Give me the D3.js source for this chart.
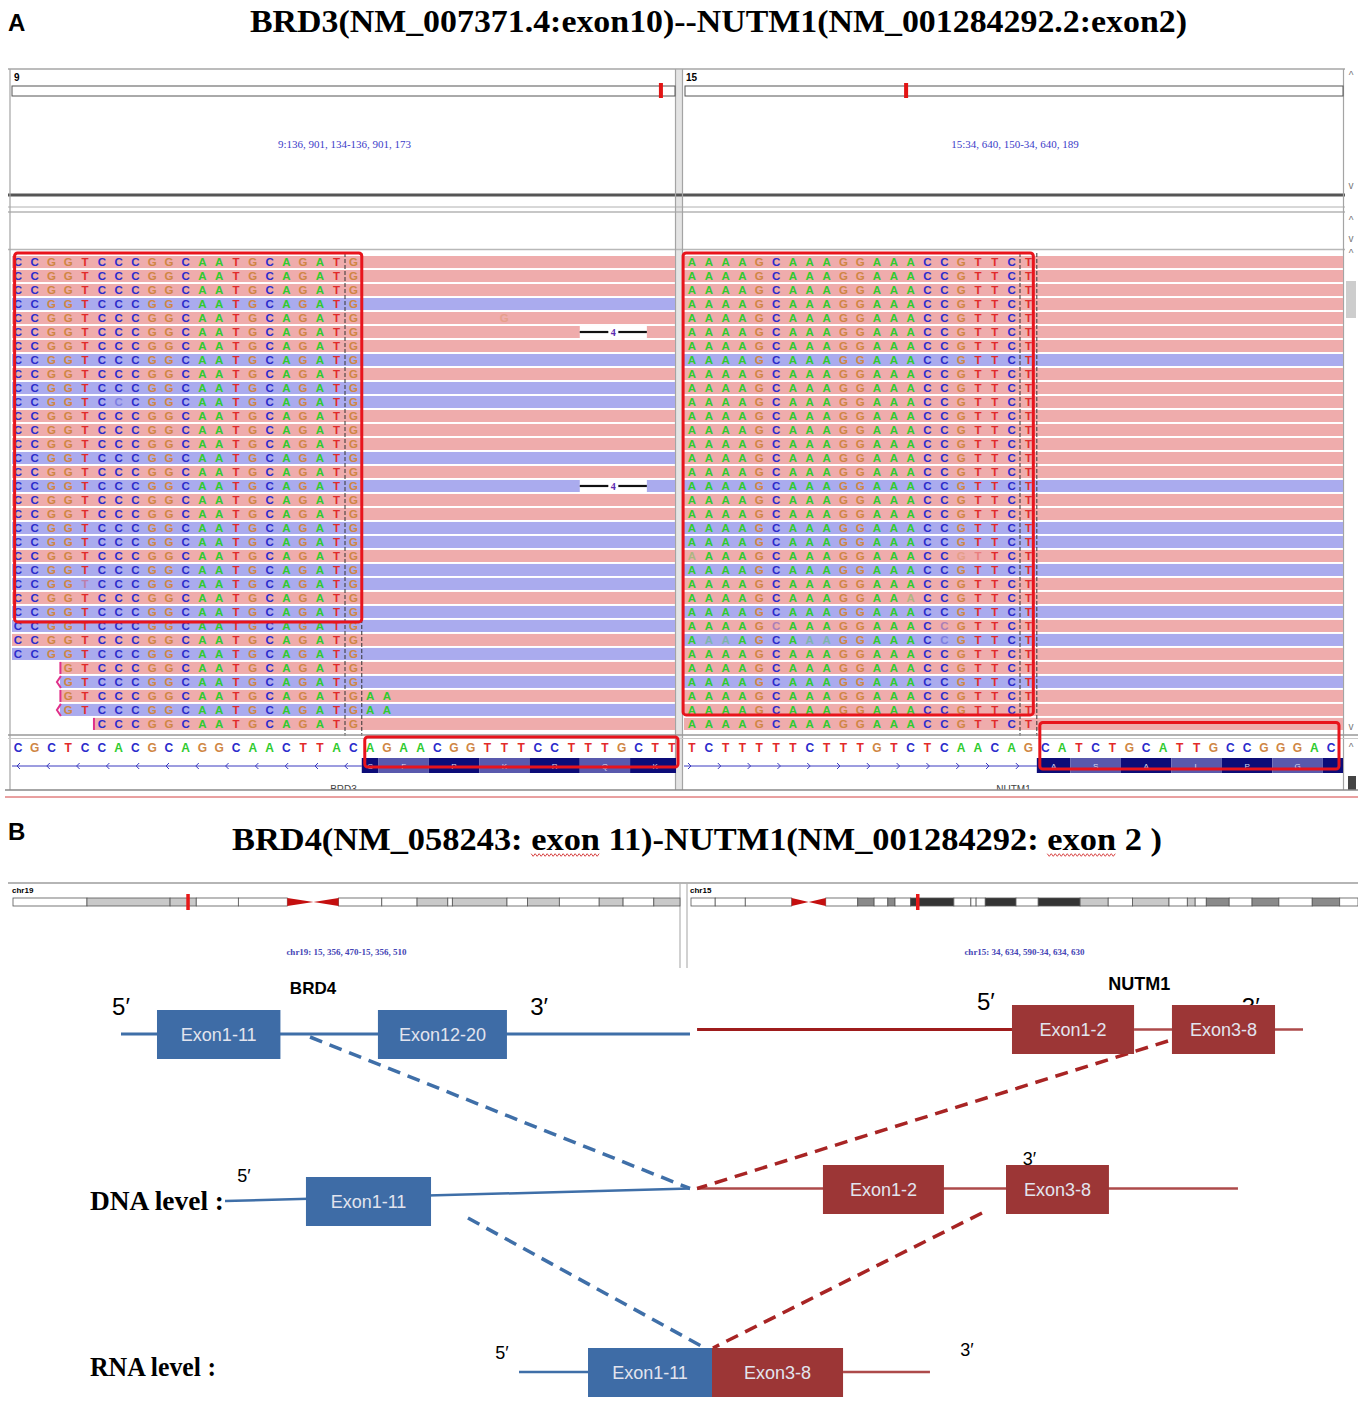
<!DOCTYPE html>
<html>
<head>
<meta charset="utf-8">
<script src="https://cdn.jsdelivr.net/npm/d3@7"></script>
<style>
  body { margin: 0; background: #fff; }
  svg { display: block; }
</style>
</head>
<body>
<svg id="fig" width="1358" height="1405"></svg>
<script>
// ---------- data ----------
const titleA = 'BRD3(NM_007371.4:exon10)--NUTM1(NM_001284292.2:exon2)'
const titleB = 'BRD4(NM_058243: exon 11)-NUTM1(NM_001284292: exon 2 )'

const chromLen = {9: 138394717, 15: 101991189}
const leftLocus = {chr: 9, start: 136901134, label: '9:136, 901, 134-136, 901, 173'}
const rightLocus = {chr: 15, start: 34640150, label: '15:34, 640, 150-34, 640, 189'}

const leftRef = 'CGCTCCACGCAGGCAACTTACAGAACGGTTTCCTTTGCTT'
const rightRef = 'TCTTTTTCTTTGTCTCAACAGCATCTGCATTGCCGGGAC'
const leftClip = 'CCGGTCCCGGCAATGCAGATG'
const rightClip = 'AAAAGCAAAGGAAACCGTTCT'

const leftReverse = [3, 7, 9, 10, 14, 16, 19, 20, 22, 23, 25, 26, 28, 30, 32]
const rightReverse = [7, 16, 19, 20, 22, 25, 27, 30]
const leftReadStart = [0, 0, 0, 0, 0, 0, 0, 0, 0, 0, 0, 0, 0, 0, 0, 0, 0,
  0, 0, 0, 0, 0, 0, 0, 0, 0, 0, 0, 0, 3, 3, 3, 3, 5]
const leftExtra = [[31, 21, 'A'], [31, 22, 'A'], [32, 21, 'A'], [32, 22, 'A']]
const leftMismatch = [[4, 29, 'G']]
const leftDeletions = [[5, 34, 38, '4'], [16, 34, 38, '4']]
const leftFaded = [[10, 6], [23, 4]]
const rightFaded = [[21, 0], [21, 16], [21, 17], [24, 13], [26, 5], [26, 15], [27, 1], [27, 2], [27, 7], [27, 8], [27, 15]]

// codons of the exon blocks (base index from, to, amino acid)
const leftCodons = [[21, 22, 'C'], [22, 25, 'F'], [25, 28, 'P'], [28, 31, 'K'], [31, 34, 'R'], [34, 37, 'Q'], [37, 40, 'K']]
const rightCodons = [[21, 23, 'A'], [23, 26, 'S'], [26, 29, 'A'], [29, 32, 'L'], [32, 35, 'P'], [35, 38, 'G'], [38, 40, '']]

// cytobands in Mb: [start, end, stain]
const chr19Bands = [[0, 6.5, 'w'], [6.5, 13.8, 'g25'], [13.8, 16.1, 'g25'], [16.1, 19.8, 'w'], [19.8, 24.1, 'w'],
  [24.1, 26.4, 'acenP'], [26.4, 28.6, 'acenQ'], [28.6, 32.4, 'w'], [32.4, 35.5, 'w'], [35.5, 38.2, 'g25'],
  [38.2, 38.6, 'w'], [38.6, 43.4, 'g25'], [43.4, 45.2, 'w'], [45.2, 48.0, 'g25'], [48.0, 51.5, 'w'],
  [51.5, 53.6, 'g25'], [53.6, 56.3, 'w'], [56.3, 58.6, 'g25']]
const chr15Bands = [[0, 3.7, 'w'], [3.7, 8.3, 'w'], [8.3, 15.4, 'w'], [15.4, 18.0, 'acenP'], [18.0, 20.6, 'acenQ'],
  [20.6, 25.5, 'w'], [25.5, 28.0, 'g50'], [28.0, 30.1, 'w'], [30.1, 31.2, 'g50'], [31.2, 33.6, 'w'],
  [33.6, 40.2, 'g100'], [40.2, 42.8, 'w'], [42.8, 43.6, 'w'], [43.6, 45.0, 'w'], [45.0, 49.7, 'g100'],
  [49.7, 53.1, 'w'], [53.1, 59.5, 'g100'], [59.5, 63.8, 'g25'], [63.8, 67.5, 'w'], [67.5, 73.1, 'g25'],
  [73.1, 75.9, 'w'], [75.9, 77.1, 'g25'], [77.1, 78.8, 'w'], [78.8, 82.3, 'g50'], [82.3, 85.8, 'w'],
  [85.8, 89.9, 'g50'], [89.9, 95.0, 'w'], [95.0, 99.2, 'g50'], [99.2, 102, 'w']]
const chr19Len = 58.6, chr15Len = 102
const chr19Mark = 15.356, chr15Mark = 34.635

// schematic (percent of width)
const exonBoxes = [
  {level: 'gene', gene: 'BRD4', label: 'Exon1-11', from: 11.56, to: 20.65},
  {level: 'gene', gene: 'BRD4', label: 'Exon12-20', from: 27.83, to: 37.33},
  {level: 'gene', gene: 'NUTM1', label: 'Exon1-2', from: 74.52, to: 83.51},
  {level: 'gene', gene: 'NUTM1', label: 'Exon3-8', from: 86.30, to: 93.89},
  {level: 'dnaB', gene: 'BRD4', label: 'Exon1-11', from: 22.53, to: 31.74},
  {level: 'dnaN', gene: 'NUTM1', label: 'Exon1-2', from: 60.60, to: 69.51},
  {level: 'dnaN', gene: 'NUTM1', label: 'Exon3-8', from: 74.08, to: 81.66},
  {level: 'rna', gene: 'BRD4', label: 'Exon1-11', from: 43.30, to: 52.43},
  {level: 'rna', gene: 'NUTM1', label: 'Exon3-8', from: 52.43, to: 62.08}
]
const backbones = [
  {gene: 'BRD4', from: 8.91, to: 50.81, y0: 'gene', y1: 'gene', w: 3},
  {gene: 'NUTM1', from: 51.33, to: 74.52, y0: 'geneN', y1: 'geneN', w: 3},
  {gene: 'NUTM1b', from: 83.51, to: 95.95, y0: 'geneN', y1: 'geneN', w: 2.5},
  {gene: 'BRD4', from: 16.57, to: 50.81, y0: 'dnaB', y1: 'dnaN', w: 2.5},
  {gene: 'NUTM1b', from: 51.33, to: 91.16, y0: 'dnaN', y1: 'dnaN', w: 2.5},
  {gene: 'BRD4', from: 38.22, to: 43.30, y0: 'rna', y1: 'rna', w: 2.5},
  {gene: 'NUTM1b', from: 62.08, to: 68.48, y0: 'rna', y1: 'rna', w: 2.5}
]
const junctions = [
  {gene: 'BRD4', from: [22.83, 'geneJ'], to: [50.81, 'dnaN']},
  {gene: 'NUTM1', from: [86.01, 'geneJ2'], to: [51.33, 'dnaN']},
  {gene: 'BRD4', from: [34.46, 'dnaJ'], to: [51.91, 'rnaTop']},
  {gene: 'NUTM1', from: [72.31, 'dnaJ2'], to: [52.50, 'rnaTop']}
]
const primeLabels = [
  {t: '5\u2032', x: 8.91, y: 'p5', size: 24}, {t: '3\u2032', x: 39.7, y: 'p5', size: 24},
  {t: '5\u2032', x: 72.6, y: 'p5n', size: 24}, {t: '3\u2032', x: 92.1, y: 'p5', size: 24},
  {t: '5\u2032', x: 17.97, y: 'pd', size: 18}, {t: '3\u2032', x: 75.8, y: 'pd3', size: 18},
  {t: '5\u2032', x: 36.97, y: 'pr', size: 18}, {t: '3\u2032', x: 71.2, y: 'pr3', size: 18}
]

// ---------- setup ----------
const svg = d3.select('#fig')
const defs = svg.append('defs')
const addClip = (id, x, y, w, h) => defs.append('clipPath').attr('id', id)
  .append('rect').attr('x', x).attr('y', y).attr('width', w).attr('height', h)

const serif = '"Liberation Serif", "Times New Roman", serif'
const sans = '"Liberation Sans", Arial, sans-serif'
const pink = '#efacac', blue = '#aaabee'
const baseColor = {A: '#2fcb2f', C: '#2b2bcc', G: '#cf8644', T: '#e22a2a'}
const stain = {w: '#ffffff', g25: '#c9c9c9', g50: '#8a8a8a', g100: '#343434'}

const xL = d3.scaleLinear().domain([0, 40]).range([9.6, 680.4])
const xR = d3.scaleLinear().domain([0, 40]).range([683.6, 1356.4])
const rowY = d3.scaleBand().domain(d3.range(34)).range([256, 256 + 34 * 13.94]).paddingInner(0.14)

function line (g, x1, y1, x2, y2, c, w, dash) {
  const l = g.append('line').attr('x1', x1).attr('y1', y1).attr('x2', x2).attr('y2', y2)
    .attr('stroke', c).attr('stroke-width', w)
  if (dash) l.attr('stroke-dasharray', dash)
  return l
}

// ---------- panel A ----------
svg.append('text').attr('x', 8).attr('y', 31).attr('font-family', sans).attr('font-weight', 'bold')
  .attr('font-size', 24).text('A')
svg.append('text').attr('x', 250).attr('y', 32).attr('font-family', serif).attr('font-weight', 'bold')
  .attr('font-size', 31).attr('textLength', 937).attr('lengthAdjust', 'spacingAndGlyphs').text(titleA)

const igv = svg.append('g')
igv.append('rect').attr('x', 676).attr('y', 69).attr('width', 7).attr('height', 721).attr('fill', '#e4e4e4')
line(igv, 8, 69, 1345, 69, '#bcbcbc', 2)
line(igv, 8, 195, 1345, 195, '#555', 3)
line(igv, 8, 207, 1345, 207, '#b0b0b0', 1)
line(igv, 8, 212, 1345, 212, '#b4b4b4', 1.5)
line(igv, 8, 249.5, 1345, 249.5, '#b8b8b8', 1.5)
;[10, 675.5, 682.5, 1343.5].forEach(x => line(igv, x, 69, x, 790, '#a4a4a4', 1.2))

// chromosome header
;[[leftLocus, 12, 675, '9', 14], [rightLocus, 685, 1343, '15', 686]].forEach(([loc, a, b, lab, lx]) => {
  const s = d3.scaleLinear().domain([0, chromLen[loc.chr]]).range([a, b - 7])
  igv.append('text').attr('x', lx).attr('y', 81).attr('font-family', sans).attr('font-weight', 'bold')
    .attr('font-size', 10).text(lab)
  igv.append('rect').attr('x', a).attr('y', 86).attr('width', b - a).attr('height', 10)
    .attr('fill', '#fff').attr('stroke', '#555').attr('stroke-width', 1)
  igv.append('rect').attr('x', s(loc.start) - 2).attr('y', 83).attr('width', 4).attr('height', 15).attr('fill', '#e31414')
  igv.append('text').attr('x', (a + b) / 2 + 1).attr('y', 148).attr('text-anchor', 'middle')
    .attr('font-family', serif).attr('font-size', 11).attr('fill', '#3b3bc8').text(loc.label)
})

// scroll glyphs
;[[79, '^'], [189, 'v'], [224, '^'], [242, 'v'], [257, '^'], [730, 'v'], [751, '^']].forEach(([y, t]) => {
  igv.append('text').attr('x', 1351).attr('y', y).attr('text-anchor', 'middle').attr('font-family', sans)
    .attr('font-size', 10).attr('fill', '#777').text(t)
})
igv.append('rect').attr('x', 1346).attr('y', 281).attr('width', 10).attr('height', 37).attr('fill', '#cdcdcd')
igv.append('rect').attr('x', 1348).attr('y', 776).attr('width', 8).attr('height', 14).attr('fill', '#444')

// reads
addClip('clipL', 12, 252, 663, 484)
addClip('clipR', 684, 252, 659, 484)

function drawReads (clipId, x, clip, reverse, starts, xEnd, faded) {
  const g = igv.append('g').attr('clip-path', `url(#${clipId})`)
  const rows = d3.range(34).map(i => ({i, rev: reverse.includes(i), start: starts ? starts[i] : 0}))
  const left = d => d.start ? x(d.start) : x(0) - 12
  g.selectAll('rect.read').data(rows).join('rect').attr('class', 'read')
    .attr('x', left).attr('y', d => rowY(d.i))
    .attr('width', d => xEnd - left(d)).attr('height', rowY.bandwidth())
    .attr('fill', d => d.rev ? blue : pink)
  const fadedSet = new Set(faded.map(f => f.join(',')))
  const letters = rows.flatMap(r => clip.split('').map((b, k) => ({row: r.i, k, b})).filter(l => l.k >= r.start))
  g.selectAll('text.base').data(letters).join('text').attr('class', 'base')
    .attr('x', d => x(d.k + 0.5)).attr('y', d => rowY(d.row) + 10.3)
    .attr('text-anchor', 'middle').attr('font-family', sans).attr('font-weight', 'bold').attr('font-size', 11.5)
    .attr('fill', d => baseColor[d.b]).attr('opacity', d => fadedSet.has(d.row + ',' + d.k) ? 0.35 : 1)
    .text(d => d.b)
  return {g, rows}
}

const L = drawReads('clipL', xL, leftClip, leftReverse, leftReadStart, 676, leftFaded)
drawReads('clipR', xR, rightClip, rightReverse, null, 1344, rightFaded)

// soft-clip markers on the late-starting reads
L.rows.filter(r => r.start > 0).forEach(r => {
  const x0 = xL(r.start), y0 = rowY(r.i), h = rowY.bandwidth()
  if (r.rev) {
    L.g.append('path').attr('d', `M${x0 + 1},${y0} L${x0 - 3},${y0 + h / 2} L${x0 + 1},${y0 + h}`)
      .attr('fill', 'none').attr('stroke', '#e0308a').attr('stroke-width', 2)
  } else {
    line(L.g, x0 + 0.5, y0, x0 + 0.5, y0 + h, '#e0308a', 2)
  }
})
L.g.selectAll('text.extra').data(leftExtra.concat(leftMismatch)).join('text').attr('class', 'extra')
  .attr('x', d => xL(d[1] + 0.5)).attr('y', d => rowY(d[0]) + 10.3).attr('text-anchor', 'middle')
  .attr('font-family', sans).attr('font-weight', 'bold').attr('font-size', 11.5)
  .attr('fill', d => baseColor[d[2]]).attr('opacity', d => d[1] > 25 ? 0.3 : 1).text(d => d[2])
leftDeletions.forEach(([row, a, b, t]) => {
  const y0 = rowY(row), h = rowY.bandwidth(), xm = (xL(a) + xL(b)) / 2
  L.g.append('rect').attr('x', xL(a)).attr('y', y0).attr('width', xL(b) - xL(a)).attr('height', h).attr('fill', '#fff')
  line(L.g, xL(a), y0 + h / 2, xm - 5, y0 + h / 2, '#111', 2.2)
  line(L.g, xm + 5, y0 + h / 2, xL(b), y0 + h / 2, '#111', 2.2)
  L.g.append('text').attr('x', xm).attr('y', y0 + 10).attr('text-anchor', 'middle').attr('font-family', serif)
    .attr('font-weight', 'bold').attr('font-size', 10).attr('fill', '#5a2ab0').text(t)
})

// centre (junction) lines
;[[xL, 20], [xL, 21], [xR, 20], [xR, 21]].forEach(([x, b]) => line(igv, x(b), 253, x(b), 736, '#333', 1, '4,2'))

// reference sequence
line(igv, 8, 735, 1358, 735, '#999', 1.5)
line(igv, 8, 738.5, 1358, 738.5, '#c9c9c9', 1)
;[[xL, leftRef, 'clipRefL', 12, 664], [xR, rightRef, 'clipRefR', 684, 659]].forEach(([x, seq, id, cx, cw]) => {
  addClip(id, cx, 739, cw, 52)
  igv.append('g').attr('clip-path', `url(#${id})`).selectAll('text').data(seq.split('')).join('text')
    .attr('x', (d, i) => x(i + 0.5)).attr('y', 752).attr('text-anchor', 'middle').attr('font-family', sans)
    .attr('font-weight', 'bold').attr('font-size', 12).attr('fill', d => baseColor[d]).text(d => d)
})

// gene tracks
function geneTrack (x, codons, dir, name, clipId) {
  const g = igv.append('g').attr('clip-path', `url(#${clipId})`)
  const startX = dir < 0 ? 12 : 684
  const stopX = x(codons[0][0])
  line(g, startX, 766, stopX, 766, '#3a3ac0', 1)
  d3.range(startX + 6, stopX - 8, 29.8).forEach(ax => {
    g.append('path').attr('d', dir < 0 ? `M${ax + 2},763 L${ax - 1},766 L${ax + 2},769` : `M${ax - 2},763 L${ax + 1},766 L${ax - 2},769`)
      .attr('fill', 'none').attr('stroke', '#3a3ac0').attr('stroke-width', 1)
  })
  g.selectAll('rect.cod').data(codons).join('rect').attr('class', 'cod')
    .attr('x', d => x(d[0])).attr('y', 758).attr('width', d => x(d[1]) - x(d[0])).attr('height', 15)
    .attr('fill', (d, i) => i % 2 ? '#5959ad' : '#0c0c78')
  g.selectAll('text.aa').data(codons).join('text').attr('class', 'aa')
    .attr('x', d => (x(d[0]) + x(d[1])) / 2).attr('y', 769).attr('text-anchor', 'middle')
    .attr('font-family', sans).attr('font-size', 8).attr('fill', '#d8d8f0').text(d => d[2])
  g.append('text').attr('x', (startX + (dir < 0 ? 675 : 1343)) / 2).attr('y', 793).attr('text-anchor', 'middle')
    .attr('font-family', sans).attr('font-size', 10).attr('fill', '#444').text(name)
}
addClip('geneL', 12, 739, 664, 51)
addClip('geneR', 684, 739, 659, 51)
geneTrack(xL, leftCodons, -1, 'BRD3', 'geneL')
geneTrack(xR, rightCodons, 1, 'NUTM1', 'geneR')
line(igv, 5, 790, 1358, 790, '#888', 1.5)
line(igv, 5, 797, 1358, 797, '#d24040', 1)

// red highlight boxes
const boxes = [
  [xL(0) + 5, rowY(0) - 3, xL(21), rowY(26) + 2],
  [xR(0) - 0.5, rowY(0) - 3, xR(21) - 3.5, rowY(33) - 3],
  [xL(21) + 3, 737, 678, 767],
  [xR(21) + 3, 722.5, 1339, 769]
]
igv.selectAll('rect.hl').data(boxes).join('rect').attr('class', 'hl')
  .attr('x', d => d[0]).attr('y', d => d[1]).attr('width', d => d[2] - d[0]).attr('height', d => d[3] - d[1])
  .attr('rx', 3).attr('fill', 'none').attr('stroke', '#e8141c').attr('stroke-width', 3)

// ---------- panel B ----------
svg.append('text').attr('x', 8).attr('y', 840).attr('font-family', sans).attr('font-weight', 'bold')
  .attr('font-size', 24).text('B')
const tB = svg.append('text').attr('x', 232).attr('y', 850).attr('font-family', serif).attr('font-weight', 'bold')
  .attr('font-size', 31).attr('textLength', 930).attr('lengthAdjust', 'spacingAndGlyphs').text(titleB)
// spell-check squiggles under "exon"
const tn = tB.node()
let idx = titleB.indexOf('exon')
while (idx >= 0) {
  const a = tn.getStartPositionOfChar(idx).x, b = tn.getEndPositionOfChar(idx + 3).x
  const pts = d3.range(a, b, 2).map((p, k) => [p, 855 + (k % 2 ? 1.3 : -1.3)])
  svg.append('path').attr('d', d3.line()(pts)).attr('fill', 'none').attr('stroke', '#d23030').attr('stroke-width', 0.9)
  idx = titleB.indexOf('exon', idx + 4)
}

const ideoB = svg.append('g')
line(ideoB, 8, 883, 1358, 883, '#b5b5b5', 2)
;[680, 687].forEach(x => line(ideoB, x, 883, x, 968, '#b3b3b3', 1.2))
function ideogram (bands, len, x0, x1, mark, name, locus) {
  const s = d3.scaleLinear().domain([0, len]).range([x0, x1])
  const y0 = 898, h = 8
  ideoB.append('text').attr('x', x0 - 1).attr('y', 893).attr('font-family', sans).attr('font-weight', 'bold')
    .attr('font-size', 8).text(name)
  ideoB.selectAll(null).data(bands.filter(d => !d[2].startsWith('acen'))).join('rect')
    .attr('x', d => s(d[0])).attr('y', y0).attr('width', d => s(d[1]) - s(d[0])).attr('height', h)
    .attr('fill', d => stain[d[2]]).attr('stroke', '#555').attr('stroke-width', 0.8)
  ideoB.selectAll(null).data(bands.filter(d => d[2].startsWith('acen'))).join('path')
    .attr('d', d => d[2] === 'acenP'
      ? `M${s(d[0])},${y0} L${s(d[1])},${y0 + h / 2} L${s(d[0])},${y0 + h} Z`
      : `M${s(d[1])},${y0} L${s(d[0])},${y0 + h / 2} L${s(d[1])},${y0 + h} Z`)
    .attr('fill', '#c40f0f')
  ideoB.append('rect').attr('x', s(mark) - 1.5).attr('y', 894).attr('width', 3.5).attr('height', 16).attr('fill', '#e81818')
  ideoB.append('text').attr('x', (x0 + x1) / 2).attr('y', 955).attr('text-anchor', 'middle').attr('font-family', serif)
    .attr('font-weight', 'bold').attr('font-size', 9).attr('fill', '#4545b5').text(locus)
}
ideogram(chr19Bands, chr19Len, 13, 680, chr19Mark, 'chr19', 'chr19: 15, 356, 470-15, 356, 510')
ideogram(chr15Bands, chr15Len, 691, 1358, chr15Mark, 'chr15', 'chr15: 34, 634, 590-34, 634, 630')

// fusion schematic
const px = d3.scaleLinear().domain([0, 100]).range([0, 1358])
const yLevel = d3.scaleOrdinal()
  .domain(['gene', 'geneN', 'geneJ', 'geneJ2', 'dnaB', 'dnaN', 'dnaJ', 'dnaJ2', 'rna', 'rnaTop', 'p5', 'p5n', 'pd', 'pd3', 'pr', 'pr3'])
  .range([1034, 1029.5, 1037, 1041, 1201, 1188.5, 1218, 1213, 1372, 1348, 1015, 1010, 1182, 1165, 1359, 1356])
const boxCenter = {gene: 1034, dnaB: 1201, dnaN: 1189, rna: 1372}
const boxTop = {gene: 1010, dnaB: 1177, dnaN: 1165, rna: 1348}
const geneColor = {BRD4: '#3e6ca6', NUTM1: '#9c3636', NUTM1b: '#a94545'}
const sch = svg.append('g')

sch.append('text').attr('x', px(23.05)).attr('y', 994).attr('text-anchor', 'middle').attr('font-family', sans)
  .attr('font-weight', 'bold').attr('font-size', 17).text('BRD4')
sch.append('text').attr('x', px(83.9)).attr('y', 990).attr('text-anchor', 'middle').attr('font-family', sans)
  .attr('font-weight', 'bold').attr('font-size', 18).text('NUTM1')
sch.selectAll('text.prime').data(primeLabels).join('text').attr('class', 'prime')
  .attr('x', d => px(d.x)).attr('y', d => yLevel(d.y)).attr('text-anchor', 'middle')
  .attr('font-family', sans).attr('font-size', d => d.size).text(d => d.t)

sch.selectAll('line.bb').data(backbones).join('line').attr('class', 'bb')
  .attr('x1', d => px(d.from)).attr('x2', d => px(d.to))
  .attr('y1', d => yLevel(d.y0)).attr('y2', d => yLevel(d.y1))
  .attr('stroke', d => d.gene === 'BRD4' ? '#3f6fa8' : (d.gene === 'NUTM1' ? '#9e1c1c' : '#ad4a4a'))
  .attr('stroke-width', d => d.w)

sch.selectAll('line.jn').data(junctions).join('line').attr('class', 'jn')
  .attr('x1', d => px(d.from[0])).attr('y1', d => yLevel(d.from[1]))
  .attr('x2', d => px(d.to[0])).attr('y2', d => yLevel(d.to[1]))
  .attr('stroke', d => d.gene === 'BRD4' ? '#3f6fa8' : '#a82424')
  .attr('stroke-width', 3.5).attr('stroke-dasharray', '13,8')

const bx = sch.selectAll('g.exon').data(exonBoxes).join('g').attr('class', 'exon')
bx.append('rect')
  .attr('x', d => px(d.from)).attr('width', d => px(d.to) - px(d.from))
  .attr('y', d => d.level === 'gene' && d.gene === 'NUTM1' ? 1005 : boxTop[d.level]).attr('height', 49)
  .attr('fill', d => geneColor[d.gene])
bx.append('text')
  .attr('x', d => (px(d.from) + px(d.to)) / 2)
  .attr('y', d => (d.level === 'gene' && d.gene === 'NUTM1' ? 1029.5 : boxCenter[d.level]) + 6.5)
  .attr('text-anchor', 'middle').attr('font-family', sans).attr('font-size', 18).attr('fill', '#e2e4ee')
  .text(d => d.label)

sch.append('text').attr('x', 90).attr('y', 1210).attr('font-family', serif).attr('font-weight', 'bold')
  .attr('font-size', 28).attr('textLength', 134).attr('lengthAdjust', 'spacingAndGlyphs').text('DNA  level :')
sch.append('text').attr('x', 90).attr('y', 1376).attr('font-family', serif).attr('font-weight', 'bold')
  .attr('font-size', 28).attr('textLength', 126).attr('lengthAdjust', 'spacingAndGlyphs').text('RNA level :')
</script>
</body>
</html>
